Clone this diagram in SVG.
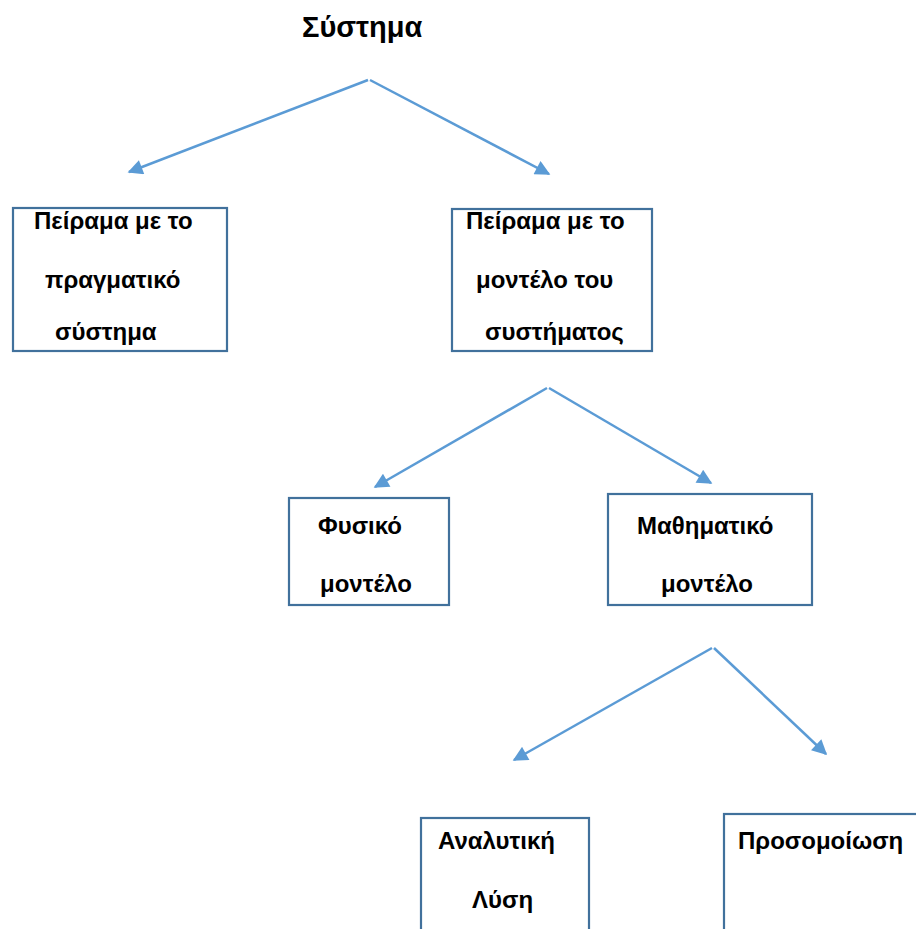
<svg xmlns="http://www.w3.org/2000/svg" width="916" height="929" viewBox="0 0 916 929">
<defs>
<marker id="ah" viewBox="0 0 10 10" refX="9" refY="5" markerWidth="7" markerHeight="6" markerUnits="strokeWidth" orient="auto">
<path d="M0,0 L10,5 L0,10 z" fill="#5B9BD5"/>
</marker>
<style>
.box{fill:#fff;stroke:#41719C;stroke-width:2.2}
.t{font-family:"Liberation Sans",Arial,sans-serif;font-weight:bold;font-size:24px;fill:#000}
.c{stroke:#5B9BD5;stroke-width:2.5;fill:none;marker-end:url(#ah)}
</style>
</defs>
<rect width="916" height="929" fill="#fff"/>
<g id="title"><text class="t" x="302" y="37" style="font-size:29px">Σύστημα</text></g>
<g id="connectors">
<line class="c" x1="368" y1="80" x2="129" y2="172"/>
<line class="c" x1="370" y1="80" x2="549" y2="174"/>
<line class="c" x1="547" y1="388" x2="375" y2="487"/>
<line class="c" x1="549" y1="388" x2="711" y2="483"/>
<line class="c" x1="712" y1="648" x2="514" y2="760"/>
<line class="c" x1="714" y1="648" x2="826" y2="754"/>
</g>
<g id="n1"><rect class="box" x="13" y="208" width="214" height="143"/>
<text class="t" x="34" y="229">Πείραμα με το</text>
<text class="t" x="45" y="288">πραγματικό</text>
<text class="t" x="55" y="340">σύστημα</text></g>
<g id="n2"><rect class="box" x="452" y="209" width="200" height="142"/>
<text class="t" x="466" y="229">Πείραμα με το</text>
<text class="t" x="476" y="288">μοντέλο του</text>
<text class="t" x="485" y="340">συστήματος</text></g>
<g id="n3"><rect class="box" x="289" y="498" width="160" height="107"/>
<text class="t" x="318" y="534">Φυσικό</text>
<text class="t" x="320" y="592">μοντέλο</text></g>
<g id="n4"><rect class="box" x="608" y="494" width="204" height="111"/>
<text class="t" x="637" y="534">Μαθηματικό</text>
<text class="t" x="661" y="592">μοντέλο</text></g>
<g id="n5"><rect class="box" x="421" y="818" width="168" height="130"/>
<text class="t" x="438" y="849">Αναλυτική</text>
<text class="t" x="472" y="908">Λύση</text></g>
<g id="n6"><rect class="box" x="724" y="814" width="220" height="135"/>
<text class="t" x="738" y="849">Προσομοίωση</text></g>
</svg>
